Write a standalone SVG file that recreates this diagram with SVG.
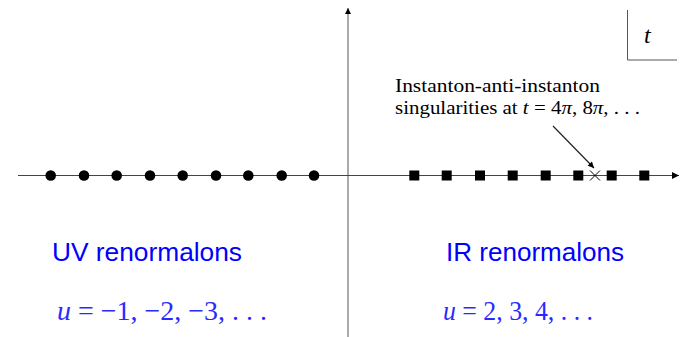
<svg xmlns="http://www.w3.org/2000/svg" width="687" height="337" viewBox="0 0 687 337">
<style>
.serif{font-family:"Liberation Serif","DejaVu Serif",serif;fill:#000}
.blue{font-family:"Liberation Sans",Arial,sans-serif;fill:#0000ff;font-size:26px}
.math{font-family:"Liberation Serif","DejaVu Serif",serif;fill:#2a2aff;font-size:28px}
.pole{fill:#000}
</style>
<defs>
<marker id="ah" viewBox="0 0 10 10" refX="10" refY="5" markerWidth="8" markerHeight="6" markerUnits="userSpaceOnUse" orient="auto">
<path d="M0,0 L10,5 L0,10 Z" fill="#000"/>
</marker>
<marker id="ah2" viewBox="0 0 10 10" refX="10" refY="5" markerWidth="9" markerHeight="7" markerUnits="userSpaceOnUse" orient="auto">
<path d="M0,0 L10,5 L0,10 Z" fill="#000"/>
</marker>
</defs>
<g id="connectors">
<line x1="348" y1="337" x2="348" y2="8" stroke="#aaa" stroke-width="2" marker-end="url(#ah)"/>
<line x1="18" y1="175.5" x2="679" y2="175.5" stroke="#444" stroke-width="1" marker-end="url(#ah2)"/>
<line x1="553" y1="126" x2="594" y2="168" stroke="#222" stroke-width="1.2" marker-end="url(#ah)"/>
</g>
<g id="uv-poles" class="pole">
<circle cx="50.7" cy="175.5" r="5.3"/>
<circle cx="84" cy="175.5" r="5.3"/>
<circle cx="116.7" cy="175.5" r="5.3"/>
<circle cx="150" cy="175.5" r="5.3"/>
<circle cx="182.7" cy="175.5" r="5.3"/>
<circle cx="216" cy="175.5" r="5.3"/>
<circle cx="248.3" cy="175.5" r="5.3"/>
<circle cx="281.7" cy="175.5" r="5.3"/>
<circle cx="314" cy="175.5" r="5.3"/>
</g>
<g id="ir-poles" class="pole">
<rect x="409.3" y="170.5" width="10" height="10"/>
<rect x="441.7" y="170.5" width="10" height="10"/>
<rect x="475" y="170.5" width="10" height="10"/>
<rect x="507.7" y="170.5" width="10" height="10"/>
<rect x="540.7" y="170.5" width="10" height="10"/>
<rect x="573.3" y="170.5" width="10" height="10"/>
<rect x="606.7" y="170.5" width="10" height="10"/>
<rect x="639.3" y="170.5" width="10" height="10"/>
</g>
<g id="singularity">
<path d="M590,170.5 L600,180.5 M600,170.5 L590,180.5" stroke="#000" stroke-width="1"/>
</g>
<g id="t-box">
<path d="M627.5,10 V60 H677" fill="none" stroke="#555" stroke-width="1"/>
<text x="644" y="43" class="serif" font-size="24" font-style="italic">t</text>
</g>
<g id="instanton-label">
<text x="395" y="92" class="serif" font-size="19" textLength="205" lengthAdjust="spacingAndGlyphs">Instanton-anti-instanton</text>
<text x="395" y="114" class="serif" font-size="19" textLength="245" lengthAdjust="spacingAndGlyphs">singularities at <tspan font-style="italic">t</tspan> = 4<tspan font-style="italic">π</tspan>, 8<tspan font-style="italic">π</tspan>, . . .</text>
</g>
<g id="uv-label">
<text x="52" y="261" class="blue" textLength="190" lengthAdjust="spacingAndGlyphs">UV renormalons</text>
<text x="57" y="320" class="math" textLength="210" lengthAdjust="spacingAndGlyphs"><tspan font-style="italic">u</tspan> = −1, −2, −3, . . .</text>
</g>
<g id="ir-label">
<text x="446" y="261" class="blue" textLength="178" lengthAdjust="spacingAndGlyphs">IR renormalons</text>
<text x="443" y="320" class="math" textLength="150" lengthAdjust="spacingAndGlyphs"><tspan font-style="italic">u</tspan> = 2, 3, 4, . . .</text>
</g>
</svg>
